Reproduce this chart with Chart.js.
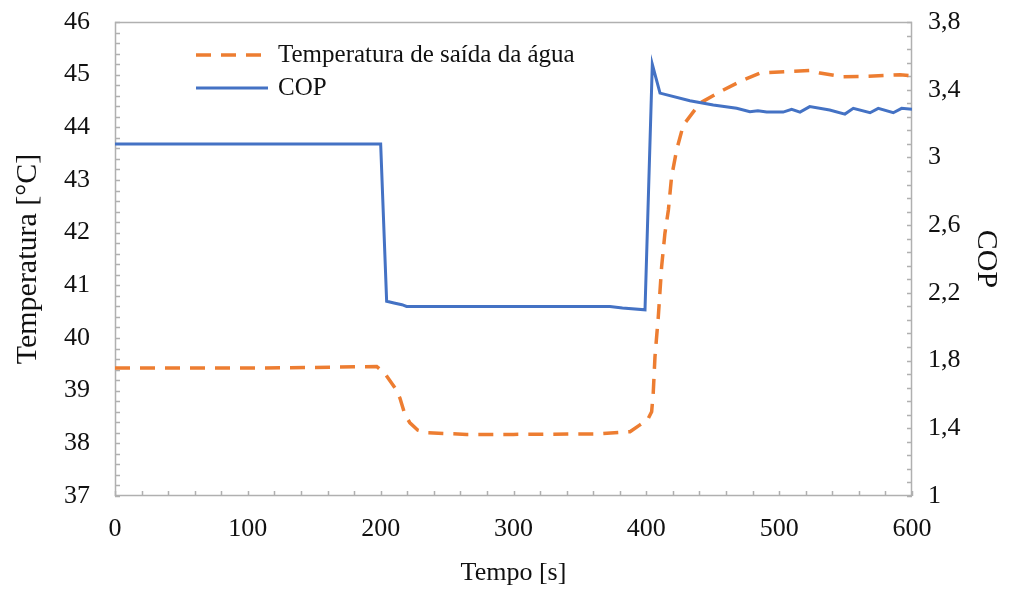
<!DOCTYPE html>
<html>
<head>
<meta charset="utf-8">
<script src="https://cdn.jsdelivr.net/npm/chart.js@4"></script>
<style>
  body { margin: 0; background: #fff; }
  #wrap { width: 1016px; height: 589px; position: relative; }
</style>
</head>
<body>
<div id="wrap"><canvas id="chart"></canvas></div>
<script>
// water outlet temperature (left axis)
const tempTime = [0, 100, 150, 197, 203, 210.8, 214.5, 218.3, 222, 228, 234.6, 264.7, 300, 365, 387.7, 395.2, 401, 404, 405.2, 406.5, 409, 411.5, 414, 416.6, 419, 422.8, 427.8, 440.4, 458, 473, 485.5, 505.6, 523, 530.7, 548, 565.8, 591, 600];
const tempValues = [39.43, 39.43, 39.44, 39.46, 39.33, 39.05, 38.86, 38.54, 38.39, 38.25, 38.20, 38.17, 38.17, 38.18, 38.22, 38.35, 38.45, 38.6, 38.96, 39.64, 40.40, 41.35, 41.99, 42.43, 43.06, 43.57, 44.04, 44.46, 44.71, 44.90, 45.03, 45.06, 45.08, 45.03, 44.96, 44.97, 45.0, 44.98];

// COP (right axis)
const copTime = [0, 200, 204.5, 210, 216, 219.5, 372.6, 382, 399, 404.5, 410.3, 432.8, 450.4, 468, 478, 484, 490.6, 503, 509.4, 515.7, 523, 538, 549.5, 555.8, 568.4, 574.6, 585.9, 592.2, 600];
const copValues = [3.08, 3.08, 2.15, 2.14, 2.13, 2.12, 2.12, 2.11, 2.10, 3.55, 3.38, 3.335, 3.31, 3.29, 3.27, 3.276, 3.268, 3.268, 3.284, 3.268, 3.30, 3.28, 3.256, 3.29, 3.264, 3.29, 3.264, 3.29, 3.284];

const seriesLabels = ["Temperatura de saída da água", "COP"];
const xTitle = "Tempo [s]";
const yTitle = "Temperatura [°C]";
const y1Title = "COP";

const ORANGE = "#ED7D31";
const BLUE = "#4472C4";
const AXIS = "#b0b0b0";
const FONT = "'Liberation Serif', 'Times New Roman', serif";

function toPoints(xs, ys) {
    return xs.map((x, i) => ({ x: x, y: ys[i] }));
}

// frame + inward minor tick marks
const framePlugin = {
    id: "frame",
    beforeDatasetsDraw(chart) {
        const { ctx, chartArea: a, scales } = chart;
        ctx.save();
        ctx.strokeStyle = AXIS;
        ctx.lineWidth = 1.5;
        ctx.strokeRect(a.left + 0.5, a.top + 0.5, a.right - a.left - 1, a.bottom - a.top - 1);
        ctx.beginPath();
        for (let v = 0; v <= 600.001; v += 20) {
            const px = Math.round(scales.x.getPixelForValue(v)) + 0.5;
            ctx.moveTo(px, a.bottom);
            ctx.lineTo(px, a.bottom - 5);
        }
        for (let v = 37; v <= 46.001; v += 0.2) {
            const py = Math.round(scales.y.getPixelForValue(v)) + 0.5;
            ctx.moveTo(a.left, py);
            ctx.lineTo(a.left + 5, py);
        }
        for (let v = 1; v <= 3.8001; v += 0.08) {
            const py = Math.round(scales.y1.getPixelForValue(v)) + 0.5;
            ctx.moveTo(a.right, py);
            ctx.lineTo(a.right - 5, py);
        }
        ctx.stroke();
        ctx.restore();
    },
    afterDraw(chart) {
        // legend inside the plot
        const { ctx } = chart;
        ctx.save();
        ctx.font = "25px " + FONT;
        ctx.fillStyle = "#111";
        ctx.textBaseline = "middle";
        const rows = [55, 88];
        chart.data.datasets.forEach((ds, i) => {
            const y = rows[i];
            ctx.strokeStyle = ds.borderColor;
            ctx.lineWidth = ds.borderWidth;
            ctx.setLineDash(ds.borderDash || []);
            ctx.beginPath();
            ctx.moveTo(196, y);
            ctx.lineTo(268, y);
            ctx.stroke();
            ctx.setLineDash([]);
            ctx.fillText(ds.label, 278, y);
        });
        ctx.restore();
    }
};

function fixVertical(width) {
    return function (s) {
        s.width = width;
        s.paddingTop = 0;
        s.paddingBottom = 0;
    };
}

const ctx = document.getElementById("chart");

new Chart(ctx, {
    type: "line",
    data: {
        datasets: [
            {
                label: seriesLabels[0],
                data: toPoints(tempTime, tempValues),
                borderColor: ORANGE,
                borderWidth: 3.5,
                borderDash: [15, 10],
                pointRadius: 0,
                tension: 0,
                yAxisID: "y",
                order: 1,
            },
            {
                label: seriesLabels[1],
                data: toPoints(copTime, copValues),
                borderColor: BLUE,
                borderWidth: 3,
                pointRadius: 0,
                tension: 0,
                yAxisID: "y1",
                order: 0,
            },
        ],
    },
    options: {
        responsive: true,
        maintainAspectRatio: false,
        animation: false,
        layout: { padding: { top: 22, left: 0, right: 0, bottom: 0 } },
        plugins: { legend: { display: false }, tooltip: { enabled: false } },
        scales: {
            x: {
                type: "linear",
                min: 0,
                max: 600,
                afterFit(s) { s.height = 93; s.paddingLeft = 0; s.paddingRight = 0; },
                grid: { display: false, drawTicks: false },
                border: { display: false },
                ticks: { stepSize: 100, padding: 18, color: "#111", font: { family: FONT, size: 26 } },
                title: { display: true, text: xTitle, color: "#111", padding: 0, font: { family: FONT, size: 26 } },
            },
            y: {
                position: "left",
                min: 37,
                max: 46,
                afterFit: fixVertical(115),
                grid: { display: false, drawTicks: false },
                border: { display: false },
                ticks: { stepSize: 1, padding: 25, color: "#111", font: { family: FONT, size: 26 } },
                title: { display: true, text: yTitle, color: "#111", padding: { top: 10, bottom: 0 }, font: { family: FONT, size: 30 } },
            },
            y1: {
                position: "right",
                min: 1,
                max: 3.8,
                afterFit: fixVertical(104),
                grid: { display: false, drawTicks: false },
                border: { display: false },
                ticks: {
                    stepSize: 0.4,
                    padding: 16,
                    color: "#111",
                    font: { family: FONT, size: 26 },
                    callback: (v) => (Math.round(v * 10) / 10).toString().replace(".", ","),
                },
                title: { display: true, text: y1Title, color: "#111", padding: { top: 12, bottom: 0 }, font: { family: FONT, size: 30 } },
            },
        },
    },
    plugins: [framePlugin],
});
</script>
</body>
</html>
